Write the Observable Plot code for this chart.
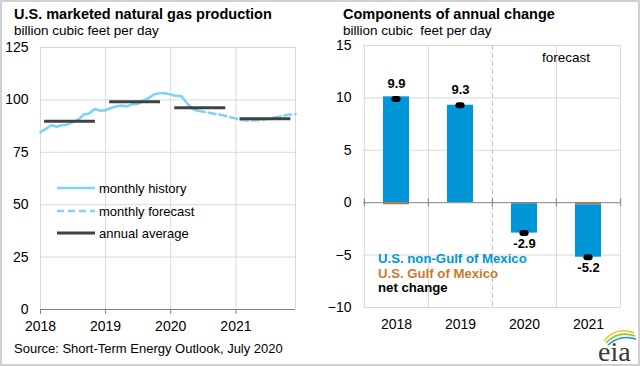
<!DOCTYPE html>
<html>
<head>
<meta charset="utf-8">
<script src="https://cdn.jsdelivr.net/npm/d3@7"></script>
<script src="https://cdn.jsdelivr.net/npm/@observablehq/plot@0.6"></script>
<style>
  html, body { margin: 0; padding: 0; background: #fff; }
  #page { position: relative; width: 640px; height: 366px; overflow: hidden; background: #fff;
          font-family: "Liberation Sans", Arial, sans-serif; color: #000; }
  #left, #right { position: absolute; top: 40px; width: 320px; height: 300px; }
  #left { left: 0; }
  #right { left: 320px; }
  #overlay { position: absolute; left: 0; top: 0; pointer-events: none; }
  #frame { position: absolute; left: 0; top: 0; width: 640px; height: 366px; box-sizing: border-box;
           border: 2px solid #d0d0d0; pointer-events: none; }
  svg g[aria-label="x-axis"] .tick line, svg g[aria-label="x-axis tick"] { stroke: #808080; }
</style>
</head>
<body>
<div id="page">
  <div id="left"></div>
  <div id="right"></div>
  <svg id="overlay" width="640" height="366" font-family="Liberation Sans, Arial, sans-serif"></svg>
  <div id="frame"></div>
</div>
<script>
// ---------- Left chart data ----------
const monthStart = "2018-01-01";
const historyValues = [
  84.6, 86.2, 87.9, 87.2, 87.9, 88.3, 89.4, 90.6, 93.0, 93.5, 95.6, 94.9,
  95.1, 96.1, 96.9, 97.3, 96.9, 98.0, 98.1, 99.7, 101.0, 102.7, 103.2, 103.2,
  102.6, 101.9, 101.8, 98.5, 95.8, 94.8
];
const forecastValues = [
  94.8, 94.3, 93.9, 93.4, 93.0, 92.4, 91.7,
  91.1, 90.4, 90.2, 90.2, 90.3, 90.5, 91.0, 91.6, 92.0, 92.6, 93.0, 93.2
];
const annualYears = [2018, 2019, 2020, 2021];
const annualValues = [89.8, 99.1, 96.2, 91.0];
const leftYTicks = [0, 25, 50, 75, 100, 125];
const leftXTickYears = [2018, 2019, 2020, 2021];

// ---------- Right chart data ----------
const categories = ["2018", "2019", "2020", "2021"];
const nonGulfValues = [10.1, 9.3, -2.8, -5.0];
const gulfValues = [-0.2, 0.0, -0.1, -0.2];
const netChangeValues = [9.9, 9.3, -2.9, -5.2];
const rightYTicks = [-10, -5, 0, 5, 10, 15];

const FONT = "Liberation Sans, Arial, sans-serif";
const LINE_BLUE = "#7fd2f8";
const GRID = "#d9d9d9";
const AXIS = "#808080";

// ---------- Left chart ----------
const start = new Date(monthStart + "T00:00:00Z");
const hist = historyValues.map((v, i) => ({date: d3.utcMonth.offset(start, i), value: v}));
const fc = forecastValues.map((v, i) => ({date: d3.utcMonth.offset(start, historyValues.length - 1 + i), value: v}));
const xEnd = d3.utcMonth.offset(start, 47);
const xTickDates = leftXTickYears.map(y => new Date(Date.UTC(y, 0, 1)));
const annual = annualYears.map((y, i) => ({
  x1: new Date(Date.UTC(y, 0, 24)), x2: new Date(Date.UTC(y, 10, 5)), value: annualValues[i]
}));

const left = Plot.plot({
  width: 320, height: 300,
  marginLeft: 40, marginRight: 25, marginTop: 7, marginBottom: 31,
  style: {fontFamily: FONT, fontSize: "14px", color: "#000", background: "transparent", overflow: "visible"},
  x: {type: "utc", domain: [start, xEnd], ticks: xTickDates, tickFormat: d3.utcFormat("%Y"),
      tickSize: 5, tickPadding: 7, label: null},
  y: {domain: [0, 125], ticks: leftYTicks, tickSize: 0, tickPadding: 12, label: null},
  marks: [
    Plot.ruleY(leftYTicks.filter(d => d !== 0), {stroke: GRID}),
    Plot.ruleX(xTickDates.concat([xEnd]), {stroke: GRID}),
    Plot.ruleY([0], {stroke: AXIS}),
    Plot.line(fc, {x: "date", y: "value", stroke: LINE_BLUE, strokeWidth: 2.6, strokeDasharray: "7,4"}),
    Plot.line(hist, {x: "date", y: "value", stroke: LINE_BLUE, strokeWidth: 2.6}),
    Plot.ruleY(annual, {y: "value", x1: "x1", x2: "x2", stroke: "#404040", strokeWidth: 3})
  ]
});
document.getElementById("left").appendChild(left);

// ---------- Right chart ----------
const GULF = "U.S. Gulf of Mexico", NONGULF = "U.S. non-Gulf of Mexico";
const components = [];
categories.forEach((c, i) => components.push({year: c, series: GULF, value: gulfValues[i]}));
categories.forEach((c, i) => components.push({year: c, series: NONGULF, value: nonGulfValues[i]}));
const net = categories.map((c, i) => ({year: c, value: netChangeValues[i]}));

const rW = 320, rML = 43, rMR = 20;
const halfStep = (rW - rML - rMR) / categories.length / 2;

const right = Plot.plot({
  width: rW, height: 300,
  marginLeft: rML, marginRight: rMR, marginTop: 5, marginBottom: 33,
  style: {fontFamily: FONT, fontSize: "14px", color: "#000", background: "transparent", overflow: "visible"},
  x: {domain: categories, paddingInner: 0.6, paddingOuter: 0.3, tickSize: 0, tickPadding: 12, label: null},
  y: {domain: [-10, 15], ticks: rightYTicks, tickSize: 0, tickPadding: 12, label: null},
  color: {domain: [NONGULF, GULF], range: ["#0096d7", "#c87b2e"]},
  marks: [
    Plot.ruleY(rightYTicks.filter(d => d !== 0), {stroke: GRID}),
    Plot.ruleX(categories.filter(c => c !== "2020"), {x: d => d, dx: -halfStep, stroke: GRID}),
    Plot.ruleX(categories.slice(-1), {x: d => d, dx: halfStep, stroke: GRID}),
    Plot.ruleX(["2020"], {x: d => d, dx: -halfStep, stroke: "#c0c0c0", strokeDasharray: "5,3"}),
    Plot.barY(components, {x: "year", y: "value", fill: "series"}),
    Plot.ruleY([0], {stroke: AXIS}),
    Plot.ruleX(categories, {x: d => d, dx: -halfStep, y1: 0, y2: 0, insetTop: -4, insetBottom: -4, stroke: AXIS}),
    Plot.ruleX(categories.slice(-1), {x: d => d, dx: halfStep, y1: 0, y2: 0, insetTop: -4, insetBottom: -4, stroke: AXIS}),
    Plot.tickY(net, {x: "year", y: "value", stroke: "#000", strokeWidth: 6, strokeLinecap: "round",
                     insetLeft: 11.4, insetRight: 11.4}),
    Plot.text(net.filter(d => d.value >= 0), {x: "year", y: "value", text: d => d.value.toFixed(1),
              dy: -15.5, fontWeight: "bold", fontSize: 13, fill: "#000"}),
    Plot.text(net.filter(d => d.value < 0), {x: "year", y: "value", text: d => d.value.toFixed(1),
              dy: 11, fontWeight: "bold", fontSize: 13, fill: "#000"})
  ]
});
document.getElementById("right").appendChild(right);

// ---------- Overlay texts, legends, logo ----------
const ov = d3.select("#overlay");
function txt(x, y, s, opts = {}) {
  return ov.append("text").attr("x", x).attr("y", y).text(s)
    .attr("font-size", opts.size || 13)
    .attr("font-weight", opts.bold ? "bold" : null)
    .attr("fill", opts.fill || "#000")
    .attr("text-anchor", opts.anchor || "start")
    .style("white-space", "pre");
}
txt(14, 19, "U.S. marketed natural gas production", {size: 14.5, bold: true});
txt(14, 34.5, "billion cubic feet per day", {size: 13.5});
txt(343, 19, "Components of annual change", {size: 14.5, bold: true});
txt(343, 34.5, "billion cubic  feet per day", {size: 13.5});
txt(14, 353, "Source: Short-Term Energy Outlook, July 2020", {size: 13});
txt(566, 62, "forecast", {size: 13.5, anchor: "middle"});

// left legend
const legendItems = [
  {label: "monthly history", stroke: LINE_BLUE, dash: null, y: 188},
  {label: "monthly forecast", stroke: LINE_BLUE, dash: "7,4", y: 211},
  {label: "annual average", stroke: "#404040", dash: null, y: 233}
];
legendItems.forEach(it => {
  ov.append("line").attr("x1", 57).attr("x2", 95).attr("y1", it.y).attr("y2", it.y)
    .attr("stroke", it.stroke).attr("stroke-width", it.stroke === "#404040" ? 3 : 2.6)
    .attr("stroke-dasharray", it.dash);
  txt(99, it.y + 4.5, it.label, {size: 13});
});

// right legend
txt(378, 262.5, "U.S. non-Gulf of Mexico", {size: 13.2, bold: true, fill: "#0096d7"});
txt(378, 277.5, "U.S. Gulf of Mexico", {size: 13.2, bold: true, fill: "#c87b2e"});
txt(378, 292, "net change", {size: 13.2, bold: true});

// eia logo
const logo = ov.append("g");
logo.append("path").attr("d", "M604,341 Q616,326 634,333").attr("fill", "none").attr("stroke", "#f2c318").attr("stroke-width", 1.6);
logo.append("path").attr("d", "M606,343 Q618,330 635,336").attr("fill", "none").attr("stroke", "#8cc63f").attr("stroke-width", 1.6);
logo.append("path").attr("d", "M608,345 Q620,334 636,339").attr("fill", "none").attr("stroke", "#1e8fd0").attr("stroke-width", 1.6);
ov.append("text").attr("x", 598).attr("y", 361).text("eia")
  .attr("font-family", "Liberation Serif, serif").attr("font-size", 28).attr("fill", "#3a3a3a");
</script>
</body>
</html>
